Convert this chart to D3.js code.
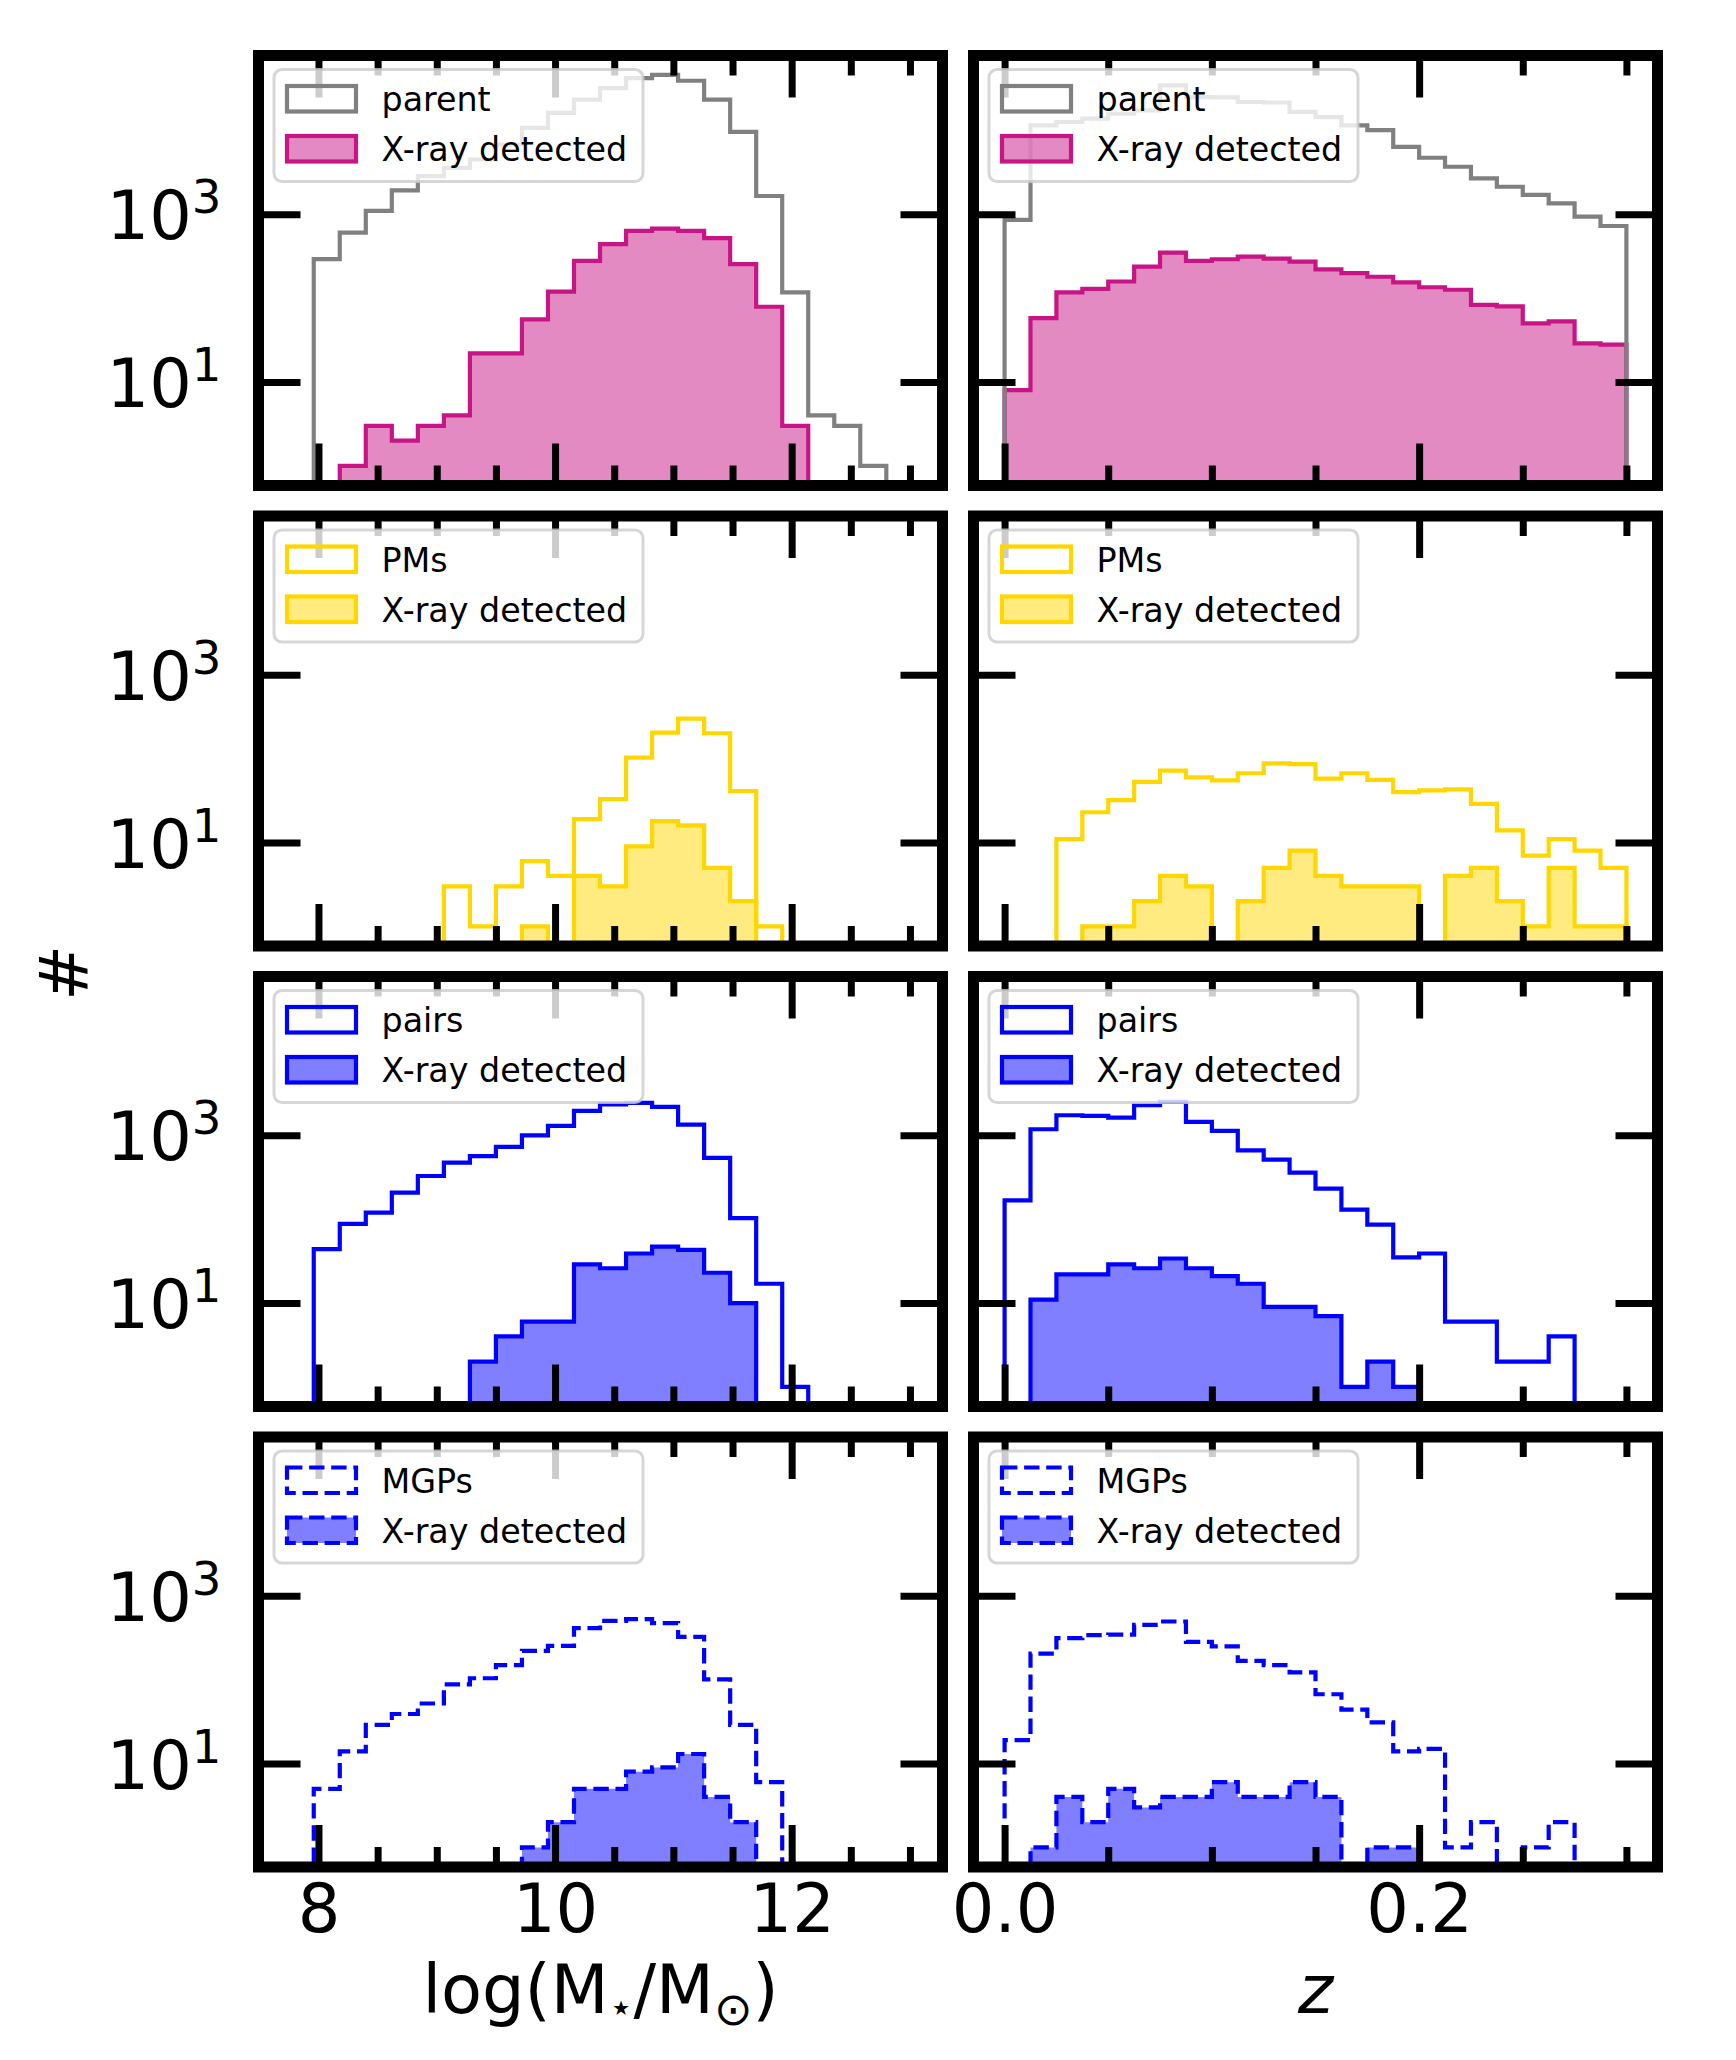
<!DOCTYPE html>
<html><head><meta charset="utf-8">
<script src="https://cdn.jsdelivr.net/npm/d3@7"></script>
<style>body{margin:0;background:#fff} svg{display:block} text{font-family:"DejaVu Sans",sans-serif}</style>
</head><body><svg id="c" width="1736" height="2060"></svg>
<script>
// ---------------- data ----------------
const massEdges = [7.96, 8.18, 8.40, 8.62, 8.84, 9.06, 9.28, 9.50, 9.72, 9.94, 10.16, 10.38, 10.60, 10.82, 11.04, 11.26, 11.48, 11.70, 11.92, 12.14, 12.36, 12.58, 12.80];
const zEdges = [0, 0.0125, 0.025, 0.0375, 0.05, 0.0625, 0.075, 0.0875, 0.1, 0.1125, 0.125, 0.1375, 0.15, 0.1625, 0.175, 0.1875, 0.2, 0.2125, 0.225, 0.2375, 0.25, 0.2625, 0.275, 0.2875, 0.3];

const parentMass     = [292, 605, 1096, 1928, 2851, 3581, 4498, 6792, 10715, 16144, 23227, 31989, 42073, 46030, 39084, 23227, 9594, 1652, 117, 4, 3, 1];
const parentMassXray = [0, 1, 3, 2, 3, 4, 22, 22, 56, 120, 279, 441, 634, 676, 634, 519, 255, 79, 3, 0, 0, 0];
const parentZ        = [860, 11500, 12600, 13800, 15800, 17300, 34400, 25000, 24800, 21800, 21500, 16600, 14400, 11500, 10070, 6380, 4720, 3690, 2680, 2130, 1700, 1350, 937, 725];
const parentZXray    = [8, 58, 117, 129, 158, 238, 350, 278, 291, 313, 297, 273, 221, 199, 180, 154, 135, 126, 83, 80, 50, 53, 29, 28];

const pmsMass     = [0, 0, 0, 0, 0, 3, 1, 3, 6, 4, 19, 33, 103, 205, 301, 201, 41, 1, 0, 0, 0, 0];
const pmsMassXray = [0, 0, 0, 0, 0, 0, 0, 0, 1, 0, 4, 3, 9, 18, 16, 5, 2, 0, 0, 0, 0, 0];
const pmsZ        = [0, 0, 11, 23, 32, 53, 72, 60, 55, 67, 88, 86, 58, 67, 56, 40, 42, 43, 29, 14, 7, 11, 8, 5];
const pmsZXray    = [0, 0, 0, 1, 1, 2, 4, 3, 0, 2, 5, 8, 4, 3, 3, 3, 0, 4, 5, 2, 1, 5, 1, 1];

const pairsMass     = [44, 88, 120, 207, 327, 472, 566, 726, 1000, 1292, 1950, 2340, 2430, 2180, 1340, 537, 103, 17, 1, 0, 0, 0];
const pairsMassXray = [0, 0, 0, 0, 0, 0, 2, 4, 6, 6, 29, 26, 39, 47, 43, 23, 10, 0, 0, 0, 0, 0];
const pairsZ        = [168, 1180, 1733, 1700, 1625, 2280, 2500, 1443, 1127, 662, 513, 359, 231, 130, 86, 35, 39, 6, 6, 2, 2, 4, 0, 0];
const pairsZXray    = [0, 11, 22, 22, 29, 26, 34, 26, 21, 17, 9, 9, 7, 1, 2, 1, 0, 0, 0, 0, 0, 0, 0, 0];

const mgpsMass     = [5, 14, 29, 39, 52, 88, 104, 149, 221, 253, 411, 503, 527, 472, 324, 101, 29, 6, 0, 0, 0, 0];
const mgpsMassXray = [0, 0, 0, 0, 0, 0, 0, 0, 1, 2, 5, 5, 8, 9, 13, 4, 2, 0, 0, 0, 0, 0];
const mgpsZ        = [19, 205, 313, 340, 345, 451, 494, 282, 249, 168, 149, 122, 67, 44, 31, 14, 15, 1, 2, 0, 1, 2, 0, 0];
const mgpsZXray    = [0, 1, 4, 2, 5, 3, 4, 4, 6, 4, 4, 6, 4, 0, 1, 1, 0, 0, 0, 0, 0, 0, 0, 0];

const sampleLabels = ["parent", "PMs", "pairs", "MGPs"];
const xrayLabel = "X-ray detected";

const massMajorTicks = [8, 10, 12];
const massTickLabels = ["8", "10", "12"];
const massMinorTicks = [8.5, 9, 9.5, 10.5, 11, 11.5, 12.5, 13];
const zMajorTicks = [0.0, 0.2];
const zTickLabels = ["0.0", "0.2"];
const zMinorTicks = [0.05, 0.1, 0.15, 0.25, 0.3];
const yMajorTicks = [10, 1000];
const yTickExponents = ["1", "3"];

const massLim = [7.493, 13.275];
const zLim = [-0.015, 0.315];
const yLim = [Math.pow(10, -0.233), Math.pow(10, 4.893)];

// ---------------- styles / layout ----------------
const rowStyles = [
  {line: "#808080", xray: "#C71585", dash: null},
  {line: "#FFD700", xray: "#FFD700", dash: null},
  {line: "#0000FF", xray: "#0000FF", dash: null},
  {line: "#0000FF", xray: "#0000FF", dash: "15.4,6.7"}
];
const colX = [[258.5, 942.5], [973.5, 1657.5]];
const rowTop0 = 55.5, rowStep = 460.5, axH = 430;
const FONT = "DejaVu Sans";
const tickFont = 67, legFont = 33.3;
const spineW = 11, tickW = 7, majLen = 42, minLen = 20, histW = 4.2;

const panelData = [
  [[parentMass, parentMassXray], [parentZ, parentZXray]],
  [[pmsMass, pmsMassXray], [pmsZ, pmsZXray]],
  [[pairsMass, pairsMassXray], [pairsZ, pairsZXray]],
  [[mgpsMass, mgpsMassXray], [mgpsZ, mgpsZXray]]
];

const svg = d3.select("#c");
svg.append("rect").attr("width", 1736).attr("height", 2060).attr("fill", "#fff");
const defs = svg.append("defs");

function stepPoints(edges, counts, x, y, yb) {
  const pts = [[x(edges[0]), yb]];
  counts.forEach((c, i) => {
    const yy = c > 0 ? y(c) : yb;
    pts.push([x(edges[i]), yy], [x(edges[i + 1]), yy]);
  });
  pts.push([x(edges[edges.length - 1]), yb]);
  return pts;
}
const line = d3.line();

function styleAxis(g) {
  g.select(".domain").remove();
  g.selectAll(".tick line").attr("stroke", "#000").attr("stroke-width", tickW);
  g.attr("font-family", FONT).attr("font-size", tickFont);
  g.selectAll(".tick text").attr("fill", "#000");
}

for (let r = 0; r < 4; r++) {
  for (let c = 0; c < 2; c++) {
    const [x0, x1] = colX[c];
    const top = rowTop0 + r * rowStep, bottom = top + axH;
    const edges = c === 0 ? massEdges : zEdges;
    const x = d3.scaleLinear().domain(c === 0 ? massLim : zLim).range([x0, x1]);
    const y = d3.scaleLog().domain(yLim).range([bottom, top]);
    const st = rowStyles[r];
    const [allCounts, xrayCounts] = panelData[r][c];
    const id = `clip${r}${c}`;
    defs.append("clipPath").attr("id", id).append("rect")
      .attr("x", x0).attr("y", top).attr("width", x1 - x0).attr("height", axH);
    const g = svg.append("g");
    const hg = g.append("g").attr("clip-path", `url(#${id})`);
    const yb = bottom + 40;
    hg.append("path")
      .attr("d", line(stepPoints(edges, xrayCounts, x, y, yb)) + "Z")
      .attr("fill", st.xray).attr("fill-opacity", 0.5)
      .attr("stroke", st.xray).attr("stroke-width", histW)
      .attr("stroke-dasharray", st.dash).attr("stroke-linejoin", "miter");
    hg.append("path")
      .attr("d", line(stepPoints(edges, allCounts, x, y, yb)))
      .attr("fill", "none")
      .attr("stroke", st.line).attr("stroke-width", histW)
      .attr("stroke-dasharray", st.dash).attr("stroke-linejoin", "miter");

    // ticks
    const major = c === 0 ? massMajorTicks : zMajorTicks;
    const minor = c === 0 ? massMinorTicks : zMinorTicks;
    const labels = c === 0 ? massTickLabels : zTickLabels;
    const fmt = r === 3 ? ((d, i) => labels[i]) : (() => "");
    g.append("g").attr("transform", `translate(0,${bottom})`)
      .call(d3.axisBottom(x).tickValues(major).tickSize(-majLen).tickPadding(17.4).tickFormat(fmt)).call(styleAxis);
    g.append("g").attr("transform", `translate(0,${bottom})`)
      .call(d3.axisBottom(x).tickValues(minor).tickSize(-minLen).tickFormat("")).call(styleAxis);
    g.append("g").attr("transform", `translate(0,${top})`)
      .call(d3.axisTop(x).tickValues(major).tickSize(-majLen).tickFormat("")).call(styleAxis);
    g.append("g").attr("transform", `translate(0,${top})`)
      .call(d3.axisTop(x).tickValues(minor).tickSize(-minLen).tickFormat("")).call(styleAxis);
    g.append("g").attr("transform", `translate(${x0},0)`)
      .call(d3.axisLeft(y).tickValues(yMajorTicks).tickSize(-majLen).tickFormat("")).call(styleAxis);
    g.append("g").attr("transform", `translate(${x1},0)`)
      .call(d3.axisRight(y).tickValues(yMajorTicks).tickSize(-majLen).tickFormat("")).call(styleAxis);

    if (c === 0) {
      yMajorTicks.forEach((v, i) => {
        const t = g.append("text").attr("x", x0 - 37).attr("y", y(v) + 25)
          .attr("text-anchor", "end").attr("font-size", tickFont).attr("font-family", FONT).attr("fill", "#000");
        t.append("tspan").text("10");
        t.append("tspan").attr("font-size", 46.6).attr("dy", -26).text(yTickExponents[i]);
      });
    }

    // spines
    g.append("rect").attr("x", x0).attr("y", top).attr("width", x1 - x0).attr("height", axH)
      .attr("fill", "none").attr("stroke", "#000").attr("stroke-width", spineW);

    // legend
    const lg = g.append("g");
    lg.append("rect").attr("x", x0 + 15.5).attr("y", top + 14).attr("width", 369).attr("height", 112)
      .attr("rx", 8).attr("ry", 8)
      .attr("fill", "#fff").attr("fill-opacity", 0.8)
      .attr("stroke", "#cccccc").attr("stroke-opacity", 0.8).attr("stroke-width", 3);
    lg.append("rect").attr("x", x0 + 28.5).attr("y", top + 30.5).attr("width", 69).attr("height", 25.5)
      .attr("fill", "none").attr("stroke", st.line).attr("stroke-width", histW).attr("stroke-dasharray", st.dash);
    lg.append("rect").attr("x", x0 + 28.5).attr("y", top + 80.5).attr("width", 69).attr("height", 25.5)
      .attr("fill", st.xray).attr("fill-opacity", 0.5)
      .attr("stroke", st.xray).attr("stroke-width", histW).attr("stroke-dasharray", st.dash);
    lg.append("text").attr("x", x0 + 123).attr("y", top + 55.5).attr("font-size", legFont)
      .attr("font-family", FONT).attr("fill", "#000").text(sampleLabels[r]);
    lg.append("text").attr("x", x0 + 123).attr("y", top + 105.5).attr("font-size", legFont)
      .attr("font-family", FONT).attr("fill", "#000").text(xrayLabel);
  }
}

// axis labels
const xl = svg.append("text").attr("x", (colX[0][0] + colX[0][1]) / 2).attr("y", 2013)
  .attr("text-anchor", "middle").attr("font-size", tickFont).attr("font-family", FONT).attr("fill", "#000");
xl.append("tspan").text("log(M");
xl.append("tspan").attr("font-size", 40).attr("dy", 8).text("\u22C6");
xl.append("tspan").attr("dy", -8).text("/M");
xl.append("tspan").attr("font-size", 46).attr("dy", 12).text("\u2299");
xl.append("tspan").attr("dy", -12).text(")");

svg.append("text").attr("x", (colX[1][0] + colX[1][1]) / 2).attr("y", 2013)
  .attr("text-anchor", "middle").attr("font-size", tickFont).attr("font-family", FONT)
  .attr("font-style", "italic").attr("fill", "#000").text("z");

svg.append("text").attr("transform", "translate(88,973) rotate(-90)")
  .attr("text-anchor", "middle").attr("font-size", tickFont).attr("font-family", FONT)
  .attr("fill", "#000").text("#");
</script>
</body></html>
